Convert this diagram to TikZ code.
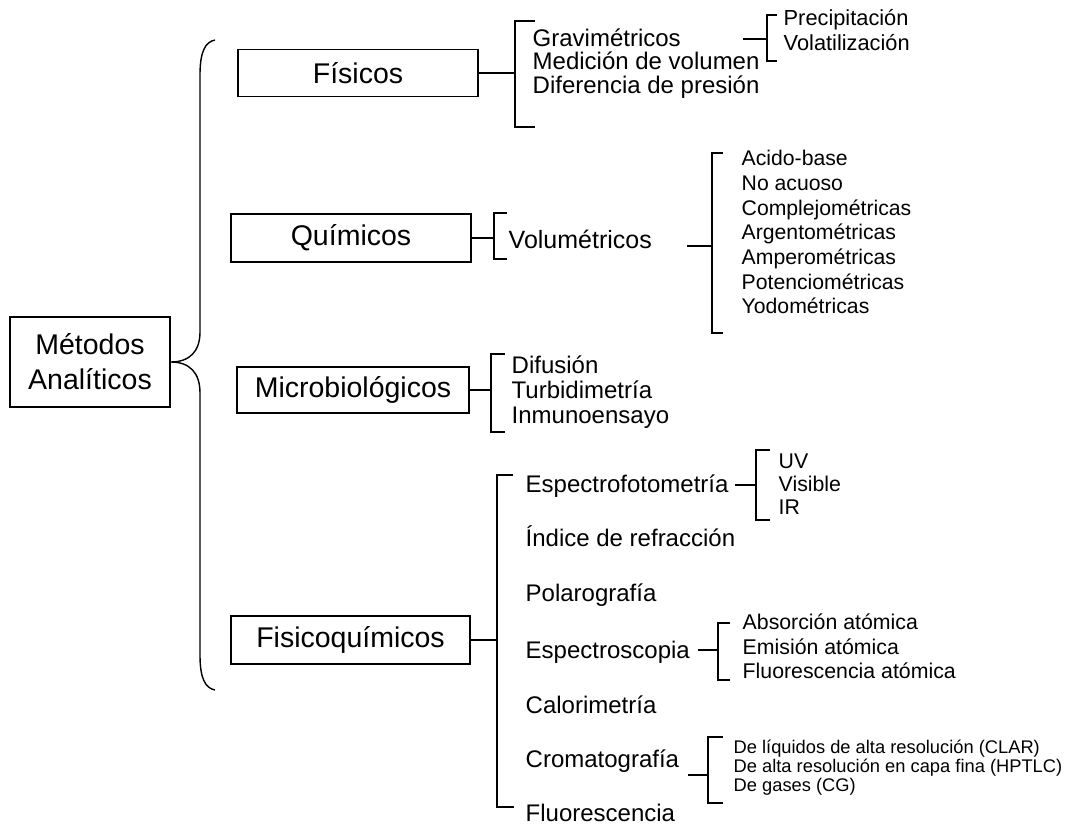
\documentclass[tikz,border=0pt]{standalone}
\usepackage{fontspec}
\setmainfont{Liberation Sans}
\begin{document}
\begin{tikzpicture}[x=1pt,y=-1pt,
  line width=1.4pt,
  box/.style={draw,line width=1.3pt,inner sep=0pt,font=\fontsize{28.5}{35}\selectfont},
  item/.style={anchor=base west,inner sep=0pt},
  big/.style={font=\fontsize{24}{24}\selectfont},
  mid/.style={font=\fontsize{21.3}{22}\selectfont},
  small/.style={font=\fontsize{18.3}{19}\selectfont}]
\useasboundingbox (0,0) rectangle (1072,825);

% main categories
\node[box,minimum width=160,minimum height=90,align=center] (met) at (90,362) {Métodos\\Analíticos};
\node[box,minimum width=240,minimum height=47] (fis) at (358,73) {Físicos};
\node[box,minimum width=240,minimum height=48] (qui) at (351,238) {Químicos};
\node[box,minimum width=232,minimum height=46] (mic) at (353,390) {Microbiológicos};
\node[box,minimum width=239,minimum height=48] (fq) at (350.5,640) {Fisicoquímicos};

% large curly brace
\coordinate (bt) at (215,40);
\coordinate (bb) at (215,690);
\draw (bt) .. controls (205,42) and (200,52) .. (200,75) -- (200,332)
  .. controls (200,351) and (190,362) .. (met.east)
  .. controls (190,362) and (200,373) .. (200,393) -- (200,655)
  .. controls (200,678) and (205,688) .. (bb);

% Físicos
\coordinate (fisB) at (515,73);
\draw (fis.east) -- (fisB);
\draw (535,21) -- (515,21) -- (515,127) -- (535,127);
\node[item,big] (grav) at (532,46.5) {Gravimétricos};
\node[item,big] (medv) at (532,69.5) {Medición de volumen};
\node[item,big] (difp) at (532,93.5) {Diferencia de presión};
\coordinate (gravR) at (743,39);
\draw (gravR) -- (767,39);
\draw (777,15) -- (767,15) -- (767,61) -- (777,61);
\node[item,font=\fontsize{21.8}{22}\selectfont] (prec) at (783,25.8) {Precipitación};
\node[item,font=\fontsize{21.8}{22}\selectfont] (vola) at (783,50.8) {Volatilización};

% Químicos
\coordinate (quiB) at (494,238);
\draw (qui.east) -- (quiB);
\draw (507,213) -- (494,213) -- (494,259) -- (507,259);
\node[item,font=\fontsize{25}{25}\selectfont] (vol) at (508,248) {Volumétricos};
\coordinate (volR) at (687,246);
\draw (volR) -- (712,246);
\draw (723,153) -- (712,153) -- (712,333) -- (723,333);
\foreach \t [count=\i from 0] in {Acido-base,No acuoso,Complejométricas,Argentométricas,Amperométricas,Potenciométricas,Yodométricas}
  \node[item,font=\fontsize{21.2}{22}\selectfont] (v\i) at (741,{165.6+24.7*\i}) {\t};

% Microbiológicos
\coordinate (micB) at (491,390);
\draw (mic.east) -- (micB);
\draw (505,354) -- (491,354) -- (491,432) -- (505,432);
\node[item,big] (difu) at (511,373.5) {Difusión};
\node[item,big] (turb) at (511,398.5) {Turbidimetría};
\node[item,big] (inmu) at (511,423.5) {Inmunoensayo};

% Fisicoquímicos
\coordinate (fqB) at (497,640);
\draw (fq.east) -- (fqB);
\draw (513,475) -- (497,475) -- (497,807) -- (514,807);
\node[item,big] (espf) at (525,492.6) {Espectrofotometría};
\node[item,big] (indr) at (525,546.6) {Índice de refracción};
\node[item,big] (pola) at (525,601.6) {Polarografía};
\node[item,big] (espc) at (525,658.6) {Espectroscopia};
\node[item,big] (calo) at (525,713.6) {Calorimetría};
\node[item,big] (crom) at (525,767) {Cromatografía};
\node[item,big] (fluo) at (525,821.5) {Fluorescencia};

% Espectrofotometría
\coordinate (espfR) at (735,485);
\draw (espfR) -- (756,485);
\draw (770,450) -- (756,450) -- (756,520) -- (770,520);
\node[item,mid] (uv) at (778,468.5) {UV};
\node[item,mid] (visi) at (778,491.5) {Visible};
\node[item,mid] (ir) at (778,514.5) {IR};

% Espectroscopia
\coordinate (espcR) at (698,650);
\draw (espcR) -- (718,650);
\draw (730,623) -- (718,623) -- (718,680) -- (730,680);
\node[item,mid] (abs) at (742,629.6) {Absorción atómica};
\node[item,mid] (emi) at (742,654.6) {Emisión atómica};
\node[item,mid] (flua) at (742,678.6) {Fluorescencia atómica};

% Cromatografía
\coordinate (cromR) at (688,775);
\draw (cromR) -- (708,775);
\draw (723,737) -- (708,737) -- (708,803) -- (723,803);
\node[item,small] (clar) at (733,753.6) {De líquidos de alta resolución (CLAR)};
\node[item,small] (hptlc) at (733,772.6) {De alta resolución en capa fina (HPTLC)};
\node[item,small] (cg) at (733,791.6) {De gases (CG)};
\end{tikzpicture}
\end{document}
